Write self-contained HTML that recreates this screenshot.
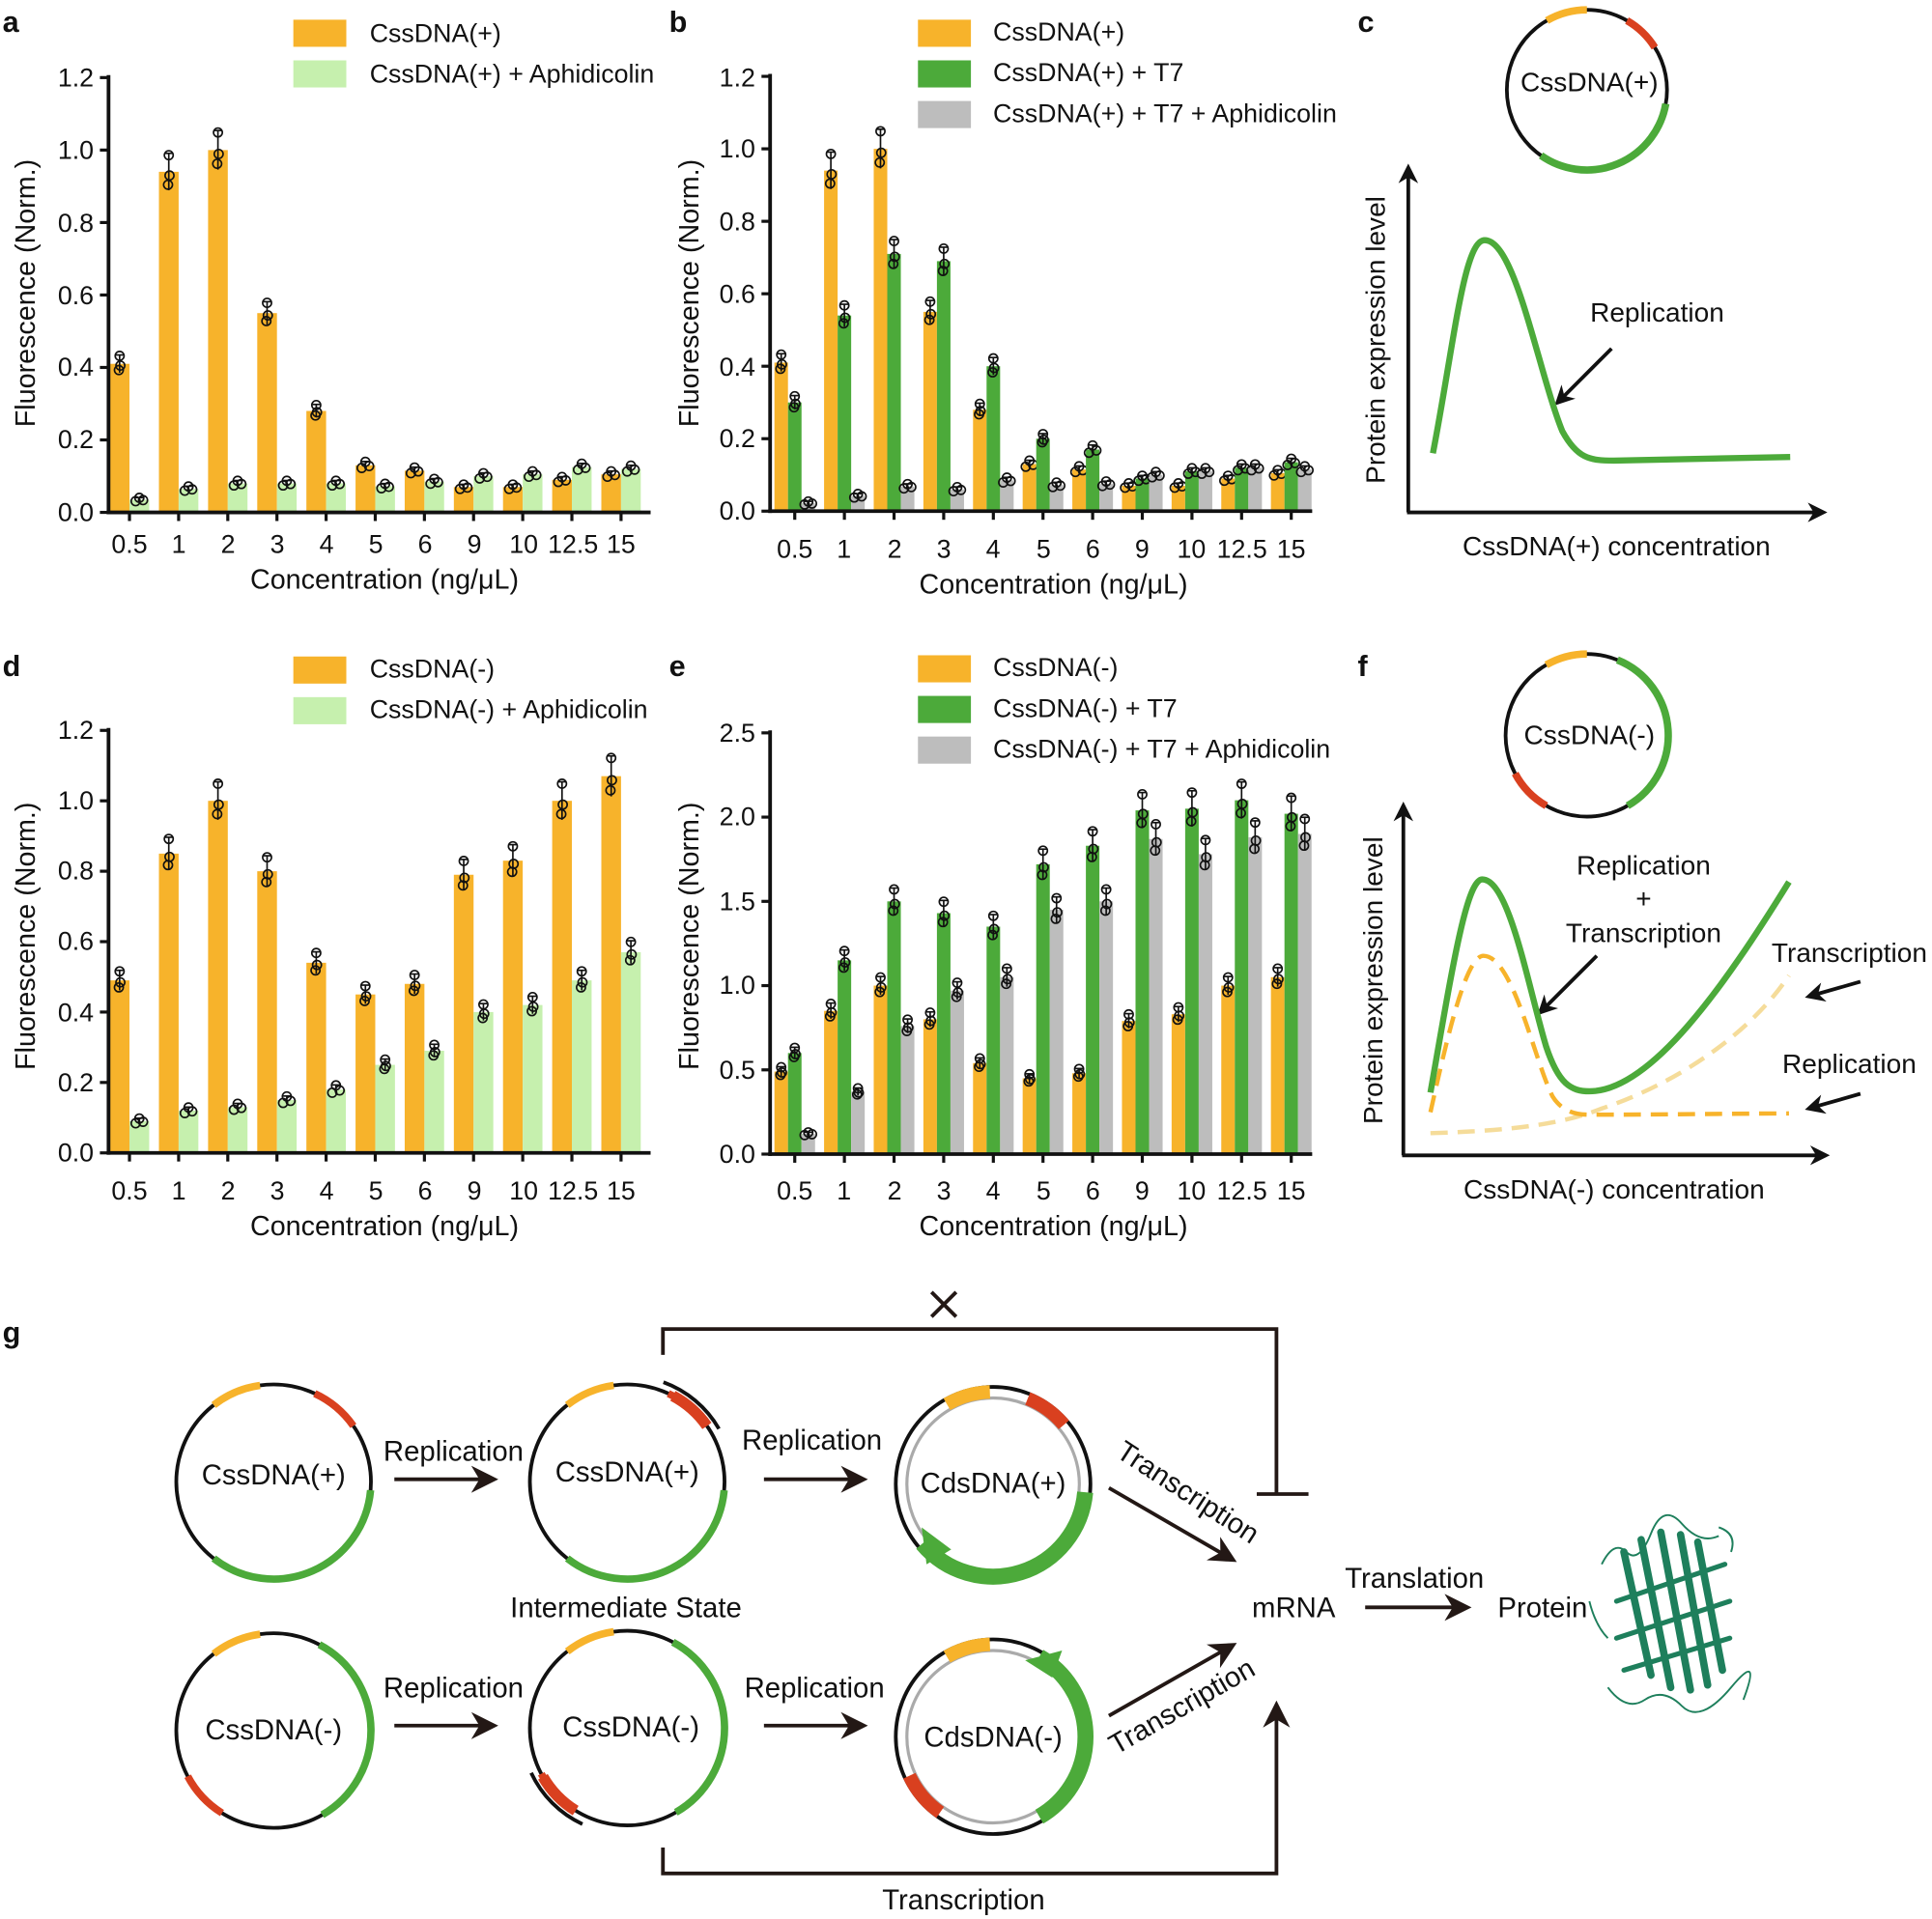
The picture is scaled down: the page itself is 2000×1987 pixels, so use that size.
<!DOCTYPE html>
<html><head><meta charset="utf-8"><style>
html,body{margin:0;padding:0;background:#fff;}
svg{display:block;}
text{font-family:"Liberation Sans",Arial,sans-serif;fill:#111;}
</style></head><body>
<svg id="s" width="2000" height="1987" viewBox="0 0 1568 1558" xmlns="http://www.w3.org/2000/svg">
<defs>
<marker id="ah" viewBox="0 0 10 10" refX="9" refY="5" markerWidth="7" markerHeight="7" orient="auto-start-reverse" markerUnits="userSpaceOnUse"><path d="M0,0 L10,5 L0,10 z" fill="#111"/></marker>
<marker id="ah3" viewBox="0 0 10 10" refX="8" refY="5" markerWidth="16" markerHeight="16" orient="auto" markerUnits="userSpaceOnUse"><path d="M0,0 L10,5 L0,10 L3,5 z" fill="#111"/></marker>
<marker id="ah2" viewBox="0 0 10 10" refX="8" refY="5" markerWidth="22" markerHeight="22" orient="auto" markerUnits="userSpaceOnUse"><path d="M0,0 L10,5 L0,10 L3,5 z" fill="#231815"/></marker>
</defs>
<g id="bars"></g>
<g font-weight="bold" font-size="24">
<text x="2" y="26">a</text><text x="543" y="26">b</text><text x="1102" y="26">c</text>
<text x="2" y="549">d</text><text x="543" y="549">e</text><text x="1102" y="549">f</text>
<text x="2" y="1090">g</text>
</g>
<g font-size="21">
<text x="76" y="70" text-anchor="end">1.2</text><text x="76" y="129" text-anchor="end">1.0</text><text x="76" y="188" text-anchor="end">0.8</text><text x="76" y="247" text-anchor="end">0.6</text><text x="76" y="305" text-anchor="end">0.4</text><text x="76" y="364" text-anchor="end">0.2</text><text x="76" y="423" text-anchor="end">0.0</text>
<g text-anchor="middle"><text x="105" y="449">0.5</text><text x="145" y="449">1</text><text x="185" y="449">2</text><text x="225" y="449">3</text><text x="265" y="449">4</text><text x="305" y="449">5</text><text x="345" y="449">6</text><text x="385" y="449">9</text><text x="425" y="449">10</text><text x="465" y="449">12.5</text><text x="504" y="449">15</text>
<text x="312" y="478" font-size="22.5">Concentration (ng/μL)</text>
<text transform="translate(28,238) rotate(-90)" font-size="22.5">Fluorescence (Norm.)</text></g>
<rect x="238" y="16" width="43" height="22" fill="#F7B32B"/><rect x="238" y="49" width="43" height="22" fill="#C6F0AE"/>
<text x="300" y="34">CssDNA(+)</text><text x="300" y="67">CssDNA(+) + Aphidicolin</text>
</g>
<g font-size="21">
<text x="613" y="70" text-anchor="end">1.2</text><text x="613" y="128" text-anchor="end">1.0</text><text x="613" y="187" text-anchor="end">0.8</text><text x="613" y="246" text-anchor="end">0.6</text><text x="613" y="305" text-anchor="end">0.4</text><text x="613" y="363" text-anchor="end">0.2</text><text x="613" y="422" text-anchor="end">0.0</text>
<g text-anchor="middle"><text x="645" y="453">0.5</text><text x="685" y="453">1</text><text x="726" y="453">2</text><text x="766" y="453">3</text><text x="806" y="453">4</text><text x="847" y="453">5</text><text x="887" y="453">6</text><text x="927" y="453">9</text><text x="967" y="453">10</text><text x="1008" y="453">12.5</text><text x="1048" y="453">15</text>
<text x="855" y="482" font-size="22.5">Concentration (ng/μL)</text>
<text transform="translate(567,238) rotate(-90)" font-size="22.5">Fluorescence (Norm.)</text></g>
<rect x="745" y="16" width="43" height="22" fill="#F7B32B"/><rect x="745" y="49" width="43" height="22" fill="#4CAA3A"/><rect x="745" y="82" width="43" height="22" fill="#BDBDBD"/>
<text x="806" y="33">CssDNA(+)</text><text x="806" y="66">CssDNA(+) + T7</text><text x="806" y="99">CssDNA(+) + T7 + Aphidicolin</text>
</g>
<g font-size="21">
<text x="76" y="600" text-anchor="end">1.2</text><text x="76" y="657" text-anchor="end">1.0</text><text x="76" y="714" text-anchor="end">0.8</text><text x="76" y="771" text-anchor="end">0.6</text><text x="76" y="829" text-anchor="end">0.4</text><text x="76" y="886" text-anchor="end">0.2</text><text x="76" y="943" text-anchor="end">0.0</text>
<g text-anchor="middle"><text x="105" y="974">0.5</text><text x="145" y="974">1</text><text x="185" y="974">2</text><text x="225" y="974">3</text><text x="265" y="974">4</text><text x="305" y="974">5</text><text x="345" y="974">6</text><text x="385" y="974">9</text><text x="425" y="974">10</text><text x="465" y="974">12.5</text><text x="504" y="974">15</text>
<text x="312" y="1003" font-size="22.5">Concentration (ng/μL)</text>
<text transform="translate(28,760) rotate(-90)" font-size="22.5">Fluorescence (Norm.)</text></g>
<rect x="238" y="533" width="43" height="22" fill="#F7B32B"/><rect x="238" y="566" width="43" height="22" fill="#C6F0AE"/>
<text x="300" y="550">CssDNA(-)</text><text x="300" y="583">CssDNA(-) + Aphidicolin</text>
</g>
<g font-size="21">
<text x="613" y="602" text-anchor="end">2.5</text><text x="613" y="670" text-anchor="end">2.0</text><text x="613" y="739" text-anchor="end">1.5</text><text x="613" y="807" text-anchor="end">1.0</text><text x="613" y="876" text-anchor="end">0.5</text><text x="613" y="944" text-anchor="end">0.0</text>
<g text-anchor="middle"><text x="645" y="974">0.5</text><text x="685" y="974">1</text><text x="726" y="974">2</text><text x="766" y="974">3</text><text x="806" y="974">4</text><text x="847" y="974">5</text><text x="887" y="974">6</text><text x="927" y="974">9</text><text x="967" y="974">10</text><text x="1008" y="974">12.5</text><text x="1048" y="974">15</text>
<text x="855" y="1003" font-size="22.5">Concentration (ng/μL)</text>
<text transform="translate(567,760) rotate(-90)" font-size="22.5">Fluorescence (Norm.)</text></g>
<rect x="745" y="532" width="43" height="22" fill="#F7B32B"/><rect x="745" y="565" width="43" height="22" fill="#4CAA3A"/><rect x="745" y="598" width="43" height="22" fill="#BDBDBD"/>
<text x="806" y="549">CssDNA(-)</text><text x="806" y="582">CssDNA(-) + T7</text><text x="806" y="615">CssDNA(-) + T7 + Aphidicolin</text>
</g>
<g id="circles"></g>
<g font-size="22">
<text x="1290" y="74" text-anchor="middle">CssDNA(+)</text>
<text x="1290" y="604" text-anchor="middle">CssDNA(-)</text>
</g>
<g stroke="#111" stroke-width="3" fill="none">
<path d="M1143,416 V136" marker-end="url(#ah3)"/><path d="M1142,416 H1480" marker-end="url(#ah3)"/>
<path d="M1139,938 V654" marker-end="url(#ah3)"/><path d="M1138,938 H1482" marker-end="url(#ah3)"/>
<path d="M1308,283 L1264,327" marker-end="url(#ah3)"/>
<path d="M1296,776 L1250,822" marker-end="url(#ah3)"/>
<path d="M1510,797 L1468,809" marker-end="url(#ah3)"/>
<path d="M1510,888 L1468,900" marker-end="url(#ah3)"/>
</g>
<path d="M1163,368 C1180,280 1188,195 1205,195 C1230,195 1248,300 1268,350 C1280,372 1290,374 1310,374 C1360,373 1410,372 1453,371" stroke="#4CAA3A" stroke-width="5" fill="none"/>
<path d="M1161,920 C1230,918 1270,912 1300,900 C1360,880 1420,840 1452,792" stroke="#F5DC9A" stroke-width="3.5" stroke-dasharray="14,8" fill="none"/>
<path d="M1161,903 C1175,840 1190,776 1204,776 C1228,776 1245,860 1260,890 C1268,903 1280,905 1290,905 C1350,905 1410,904 1452,904" stroke="#F7B32B" stroke-width="3.5" stroke-dasharray="14,8" fill="none"/>
<path d="M1161,887 C1178,790 1190,714 1203,714 C1225,714 1240,800 1255,850 C1265,880 1275,886 1290,886 C1340,886 1400,800 1452,716" stroke="#4CAA3A" stroke-width="5" fill="none"/>
<g font-size="22">
<text x="1345" y="261" text-anchor="middle">Replication</text>
<text x="1312" y="451" text-anchor="middle">CssDNA(+) concentration</text>
<text transform="translate(1124,276) rotate(-90)" text-anchor="middle">Protein expression level</text>
<text x="1334" y="710" text-anchor="middle">Replication</text>
<text x="1334" y="737" text-anchor="middle">+</text>
<text x="1334" y="765" text-anchor="middle">Transcription</text>
<text x="1501" y="781" text-anchor="middle">Transcription</text>
<text x="1501" y="871" text-anchor="middle">Replication</text>
<text x="1310" y="973" text-anchor="middle">CssDNA(-) concentration</text>
<text transform="translate(1122,796) rotate(-90)" text-anchor="middle">Protein expression level</text>
</g>
<g font-size="23">
<text x="222" y="1205" text-anchor="middle">CssDNA(+)</text>
<text x="509" y="1203" text-anchor="middle">CssDNA(+)</text>
<text x="806" y="1212" text-anchor="middle">CdsDNA(+)</text>
<text x="222" y="1412" text-anchor="middle">CssDNA(-)</text>
<text x="512" y="1410" text-anchor="middle">CssDNA(-)</text>
<text x="806" y="1418" text-anchor="middle">CdsDNA(-)</text>
<text x="368" y="1186" text-anchor="middle">Replication</text>
<text x="659" y="1177" text-anchor="middle">Replication</text>
<text x="368" y="1378" text-anchor="middle">Replication</text>
<text x="661" y="1378" text-anchor="middle">Replication</text>
<text x="508" y="1313" text-anchor="middle">Intermediate State</text>
<text x="782" y="1550" text-anchor="middle">Transcription</text>
<text x="1050" y="1313" text-anchor="middle">mRNA</text>
<text x="1148" y="1289" text-anchor="middle">Translation</text>
<text x="1252" y="1313" text-anchor="middle">Protein</text>
<text transform="translate(960,1218) rotate(33)" text-anchor="middle">Transcription</text>
<text transform="translate(963,1392) rotate(-30)" text-anchor="middle">Transcription</text>
</g>
<g stroke="#231815" stroke-width="3" fill="none">
<path d="M756,1049 L776,1069 M776,1049 L756,1069"/>
<path d="M320,1201 H400" marker-end="url(#ah2)"/>
<path d="M620,1201 H700" marker-end="url(#ah2)"/>
<path d="M320,1401 H400" marker-end="url(#ah2)"/>
<path d="M620,1401 H700" marker-end="url(#ah2)"/>
<path d="M1108,1305 H1190" marker-end="url(#ah2)"/>
<path d="M900,1208 L1000,1266" marker-end="url(#ah2)"/>
<path d="M900,1393 L1000,1336" marker-end="url(#ah2)"/>
<path d="M538,1100 V1079 H1036 V1213 M1020,1213 H1062"/>
<path d="M538,1500 V1521 H1036 V1385" marker-end="url(#ah2)"/>
</g>
<g stroke="#1E7F5C" fill="none" stroke-width="6" stroke-linecap="round">
<path d="M1318,1260 L1340,1360"/><path d="M1332,1250 L1356,1370"/><path d="M1348,1244 L1372,1372"/><path d="M1364,1246 L1386,1368"/><path d="M1378,1252 L1398,1356"/>
<path d="M1312,1300 L1400,1270" stroke-width="4"/><path d="M1312,1330 L1404,1300" stroke-width="4"/><path d="M1318,1356 L1404,1330" stroke-width="4"/>
</g>
<g stroke="#1E7F5C" fill="none" stroke-width="1.5">
<path d="M1300,1270 q10,-20 20,-10 t20,-15 t25,-8 t30,10"/><path d="M1305,1370 q15,20 30,10 t30,5 t40,-15 t10,10"/><path d="M1290,1300 q5,20 15,30"/><path d="M1395,1240 q15,5 10,20"/>
</g>
</svg>
<script>
var NS="http://www.w3.org/2000/svg",s=document.getElementById('bars');
function el(t,a,p){var e=document.createElementNS(NS,t);for(var k in a)e.setAttribute(k,a[k]);(p||s).appendChild(e);return e;}
var O="#F7B32B",LG="#C6F0AE",G="#4CAA3A",GR="#BDBDBD";
function panel(ax,x0,y0,yTop,vmax,nT,step,c0,dx,series,bw,xEnd){
  var sc=(y0-yTop)/vmax;
  series.forEach(function(sr,i){
    var off=(i-(series.length-1)/2)*bw;
    sr.v.forEach(function(v,j){
      var cx=c0+j*dx+off,h=v*sc;
      el('rect',{x:cx-bw/2,y:y0-h,width:bw,height:h,fill:sr.c});
      var e=v*0.05+0.004;
      el('line',{x1:cx,x2:cx,y1:y0-(v+e)*sc,y2:y0-Math.max(0,v-e)*sc,stroke:'#111','stroke-width':1.3});
      el('line',{x1:cx-3,x2:cx+3,y1:y0-(v+e)*sc,y2:y0-(v+e)*sc,stroke:'#111','stroke-width':1.3});
      [[0,e*0.9],[-2,-e*0.7],[2,-e*0.2]].forEach(function(p){
        el('circle',{cx:cx+p[0]*(v<0.2?1.5:0.3),cy:y0-(v+p[1])*sc,r:3.6,fill:'none',stroke:'#111','stroke-width':1.3});
      });
    });
  });
  el('line',{x1:x0,x2:x0,y1:yTop-2,y2:y0+1.5,stroke:'#111','stroke-width':3});
  el('line',{x1:x0-1.5,x2:xEnd,y1:y0,y2:y0,stroke:'#111','stroke-width':3});
  for(var k=0;k<=nT;k++){var y=y0-k*step*sc;el('line',{x1:x0-7,x2:x0,y1:y,y2:y,stroke:'#111','stroke-width':2.5});}
  for(var j=0;j<11;j++){var x=c0+j*dx;el('line',{x1:x,x2:x,y1:y0,y2:y0+7,stroke:'#111','stroke-width':2.5});}
}
var aO=[.41,.94,1.0,.55,.28,.13,.115,.07,.07,.09,.105];
var aG=[.035,.065,.08,.08,.08,.072,.085,.1,.105,.125,.12];
panel(0,88,416,63,1.2,6,0.2,105,39.9,[{v:aO,c:O},{v:aG,c:LG}],16,528);
var bG=[.3,.54,.71,.69,.4,.2,.17,.09,.11,.12,.135];
var bY=[.022,.042,.068,.06,.085,.072,.075,.1,.11,.12,.115];
panel(0,625,415,62,1.2,6,0.2,645,40.3,[{v:aO,c:O},{v:bG,c:G},{v:bY,c:GR}],11,1065);
var dO=[.49,.85,1.0,.80,.54,.45,.48,.79,.83,1.0,1.07];
var dG=[.09,.12,.13,.15,.18,.25,.29,.40,.42,.49,.57];
panel(0,88,936,593,1.2,6,0.2,105,39.9,[{v:dO,c:O},{v:dG,c:LG}],16,528);
var eO=[.49,.85,1.0,.80,.54,.45,.48,.79,.83,1.0,1.05];
var eG=[.60,1.15,1.5,1.43,1.35,1.72,1.83,2.04,2.05,2.1,2.02];
var eY=[.12,.37,.76,.97,1.05,1.45,1.5,1.87,1.78,1.88,1.9];
panel(0,625,937,595,2.5,5,0.5,645,40.3,[{v:eO,c:O},{v:eG,c:G},{v:eY,c:GR}],11,1065);
var C=document.getElementById('circles');
function arc(cx,cy,r,a1,a2,col,w){
  function pt(a){a=a*Math.PI/180;return [cx+r*Math.sin(a),cy-r*Math.cos(a)];}
  var p1=pt(a1),p2=pt(a2),lg=(a2-a1)>180?1:0;
  el('path',{d:'M'+p1[0]+','+p1[1]+' A'+r+','+r+' 0 '+lg+' 1 '+p2[0]+','+p2[1],stroke:col,'stroke-width':w,fill:'none'},C);
}
function plas(cx,cy,r,segs,w){
  el('circle',{cx:cx,cy:cy,r:r,fill:'none',stroke:'#111','stroke-width':3},C);
  segs.forEach(function(s){arc(cx,cy,r,s[0],s[1],s[2],w);});
}
var Rd="#D9401F";
plas(1288,73,65,[[-30,0,O],[30,58,Rd],[100,215,G]],6);
plas(1288,597,66,[[-30,0,O],[22,150,G],[210,242,Rd]],6);
var P=[[-38,-8,O],[25,55,Rd],[95,218,G]],M=[[-38,-8,O],[28,150,G],[212,242,Rd]];
plas(222,1203,79,P,6);plas(509,1203,79,P,6);plas(222,1405,79,M,6);plas(509,1403,79,M,6);
arc(509,1203,86,20,60,'#111',3);
arc(509,1203,79,28,55,Rd,9);
arc(509,1403,86,205,245,'#111',3);
arc(509,1403,79,212,240,Rd,9);
el('circle',{cx:806,cy:1205,r:79,fill:'none',stroke:'#111','stroke-width':3},C);
el('circle',{cx:806,cy:1205,r:70,fill:'none',stroke:'#aaa','stroke-width':2.5},C);
arc(806,1205,75,-30,-2,O,11);arc(806,1205,75,22,50,Rd,11);arc(806,1205,75,95,230,G,13);
el('path',{d:'M748,1240 l4,30 l20,-12 z',fill:G},C);
el('circle',{cx:806,cy:1410,r:79,fill:'none',stroke:'#111','stroke-width':3},C);
el('circle',{cx:806,cy:1410,r:70,fill:'none',stroke:'#aaa','stroke-width':2.5},C);
arc(806,1410,75,-30,-2,O,11);arc(806,1410,75,215,245,Rd,11);arc(806,1410,75,30,150,G,13);
el('path',{d:'M832,1348 l30,-8 l-8,22 z',fill:G},C);
</script>
</body></html>
